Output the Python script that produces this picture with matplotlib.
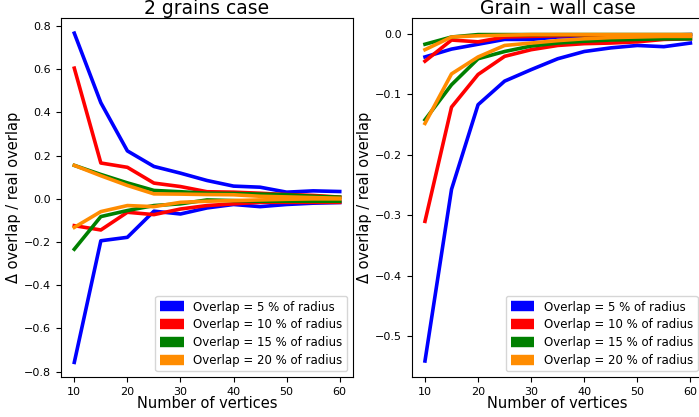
import matplotlib
matplotlib.use("Agg")
import matplotlib.pyplot as plt
from matplotlib.lines import Line2D

# number of vertices used for the polygon approximation
vertices = [10, 15, 20, 25, 30, 35, 40, 45, 50, 55, 60]

labels = ["Overlap = 5 % of radius", "Overlap = 10 % of radius",
          "Overlap = 15 % of radius", "Overlap = 20 % of radius"]
colors = ["blue", "red", "green", "darkorange"]

# --- 2 grains case: two curves per overlap (upper / lower)
grains_upper = [
    [0.767, 0.445, 0.222, 0.150, 0.119, 0.085, 0.059, 0.054, 0.031, 0.037, 0.034],
    [0.605, 0.166, 0.146, 0.073, 0.057, 0.033, 0.031, 0.026, 0.020, 0.016, 0.008],
    [0.155, 0.113, 0.074, 0.039, 0.033, 0.026, 0.025, 0.022, 0.019, 0.012, 0.008],
    [0.155, 0.107, 0.062, 0.023, 0.022, 0.020, 0.019, 0.012, 0.009, 0.006, 0.003],
]
grains_lower = [
    [-0.757, -0.194, -0.178, -0.057, -0.070, -0.042, -0.026, -0.036, -0.026, -0.020, -0.017],
    [-0.124, -0.144, -0.062, -0.073, -0.047, -0.031, -0.023, -0.016, -0.016, -0.016, -0.016],
    [-0.233, -0.082, -0.054, -0.031, -0.023, -0.005, -0.008, -0.011, -0.011, -0.011, -0.011],
    [-0.132, -0.059, -0.031, -0.036, -0.016, -0.011, -0.008, -0.005, -0.002, 0.000, 0.000],
]

# --- grain - wall case
wall_upper = [
    [-0.038, -0.025, -0.017, -0.009, -0.009, -0.005, -0.004, -0.003, -0.002, -0.002, -0.001],
    [-0.045, -0.010, -0.013, -0.005, -0.004, -0.003, -0.002, -0.002, -0.002, -0.002, -0.002],
    [-0.017, -0.005, -0.001, -0.001, -0.001, -0.001, -0.001, -0.001, -0.001, -0.001, -0.001],
    [-0.026, -0.005, -0.003, -0.002, -0.001, -0.001, -0.001, -0.001, -0.001, -0.001, -0.001],
]
wall_lower = [
    [-0.541, -0.257, -0.117, -0.078, -0.059, -0.041, -0.029, -0.023, -0.019, -0.021, -0.015],
    [-0.310, -0.121, -0.067, -0.037, -0.026, -0.019, -0.016, -0.015, -0.013, -0.009, -0.008],
    [-0.142, -0.084, -0.041, -0.029, -0.020, -0.015, -0.012, -0.010, -0.009, -0.008, -0.008],
    [-0.148, -0.066, -0.038, -0.019, -0.015, -0.011, -0.008, -0.006, -0.005, -0.004, -0.004],
]

fig = plt.figure(figsize=(6.99, 4.17), dpi=100)
ax1 = fig.add_axes([0.0873, 0.0952, 0.4177, 0.861])
ax2 = fig.add_axes([0.589, 0.0952, 0.4177, 0.861])

def draw_panel(ax, upper, lower, title):
    for up, lo, c in zip(upper, lower, colors):
        ax.plot(vertices, up, color=c, lw=2.6)
        ax.plot(vertices, lo, color=c, lw=2.6)
    ax.set_title(title, fontsize=13.5, pad=0)
    ax.set_xlabel('Number of vertices', fontsize=10.5, labelpad=-1)
    ax.set_ylabel('Δ overlap / real overlap', fontsize=10.5, labelpad=2)
    ax.tick_params(labelsize=8)
    ax.set_xticks([10, 20, 30, 40, 50, 60])
    handles = [Line2D([], [], color=c, lw=7.5, solid_capstyle='butt')
               for c in colors]
    ax.legend(handles, labels, loc='lower right', fontsize=8.5,
              handlelength=2.0, labelspacing=0.4)

draw_panel(ax1, grains_upper, grains_lower, '2 grains case')
draw_panel(ax2, wall_upper, wall_lower, 'Grain - wall case')
ax1.set_ylim(-0.826, 0.836)
ax1.set_yticks([-0.8, -0.6, -0.4, -0.2, 0.0, 0.2, 0.4, 0.6, 0.8])

fig.savefig('out.png', dpi=100)
